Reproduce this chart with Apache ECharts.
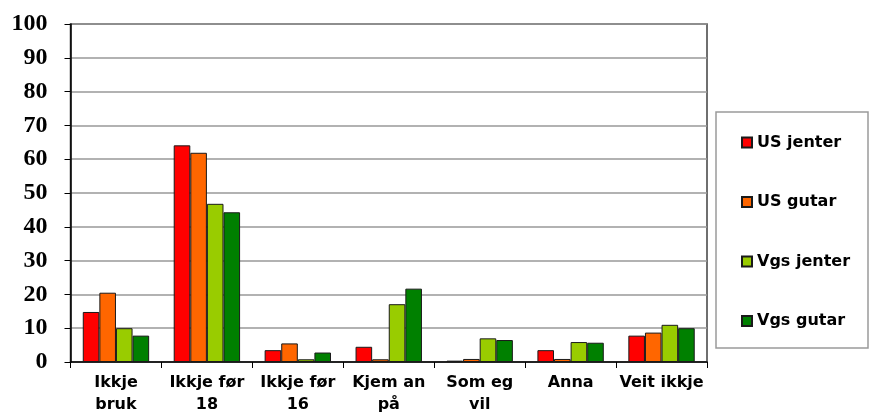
<!DOCTYPE html>
<html>
<head>
<meta charset="utf-8">
<script src="https://cdn.jsdelivr.net/npm/echarts@6/dist/echarts.min.js"></script>
<style>html,body{margin:0;padding:0;background:#fff;}#c{width:869px;height:418px;}</style>
</head>
<body>
<div id="c"></div>
<script>
const categories = ["Ikkje\nbruk", "Ikkje før\n18", "Ikkje før\n16", "Kjem an\npå", "Som eg\nvil", "Anna", "Veit ikkje"];
const seriesNames = ["US jenter", "US gutar", "Vgs jenter", "Vgs gutar"];
const usJenter = [14.8, 64.1, 3.5, 4.5, 0.4, 3.5, 7.8];
const usGutar = [20.5, 61.9, 5.5, 0.8, 0.9, 0.9, 8.7];
const vgsJenter = [10.0, 46.8, 0.8, 17.1, 7.0, 5.9, 11.0];
const vgsGutar = [7.8, 44.3, 2.8, 21.7, 6.5, 5.7, 10.0];
const colors = ["#FF0000", "#FF6600", "#99CC00", "#008000"];
const values = [usJenter, usGutar, vgsJenter, vgsGutar];

const sansBold = "'DejaVu Sans', 'Liberation Sans', Arial, sans-serif";
const serifBold = "'Liberation Serif', 'Times New Roman', serif";

const chart = echarts.init(document.getElementById('c'), null, {renderer: 'canvas'});
chart.setOption({
  animation: false,
  backgroundColor: '#ffffff',
  graphic: [{
    type: 'rect', z: 0,
    shape: {x: 716, y: 112, width: 152, height: 236},
    style: {fill: '#ffffff', stroke: '#9a9a9a', lineWidth: 1.5}
  }],
  legend: {
    orient: 'vertical',
    left: 741,
    top: 132.5,
    padding: 0,
    itemWidth: 10,
    itemHeight: 10,
    itemGap: 39.5,
    z: 10,
    icon: 'rect',
    textStyle: {fontFamily: sansBold, fontWeight: 'bold', fontSize: 16, color: '#000', lineHeight: 20},
    data: seriesNames
  },
  grid: {
    left: 70.5, right: 162, top: 24, bottom: 56,
    show: true, borderColor: '#404040', borderWidth: 1.5, backgroundColor: '#ffffff',
    containLabel: false,
    outerBoundsMode: 'none'
  },
  xAxis: {
    type: 'category',
    data: categories,
    axisLine: {show: true, lineStyle: {color: '#000', width: 1.5}},
    axisTick: {show: true, length: 6, lineStyle: {color: '#000'}},
    axisLabel: {
      interval: 0, margin: 10,
      fontFamily: sansBold, fontWeight: 'bold', fontSize: 16,
      color: '#000', lineHeight: 22
    }
  },
  yAxis: {
    type: 'value', min: 0, max: 100, interval: 10,
    axisLine: {show: true, lineStyle: {color: '#000', width: 1.5}},
    axisTick: {show: true, length: 6, lineStyle: {color: '#000'}},
    splitLine: {show: true, lineStyle: {color: '#999', width: 1.5}},
    axisLabel: {
      margin: 23,
      fontFamily: serifBold, fontWeight: 'bold', fontSize: 24,
      color: '#000'
    }
  },
  series: seriesNames.map((n, i) => ({
    name: n,
    type: 'bar',
    data: values[i],
    barGap: '0%',
    barCategoryGap: '27%',
    itemStyle: {color: colors[i], borderColor: '#1a1a1a', borderWidth: 1}
  }))
});
</script>
</body>
</html>
